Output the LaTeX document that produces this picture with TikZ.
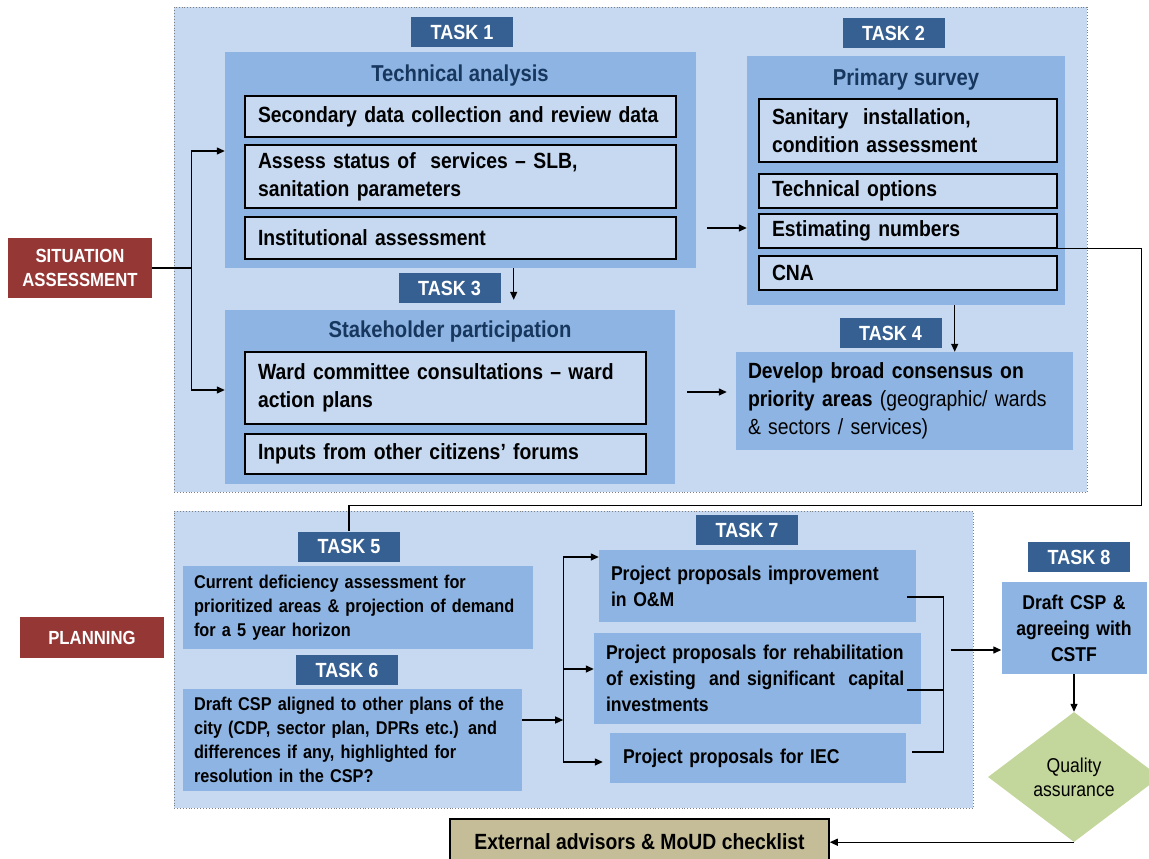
\documentclass[tikz,border=0pt]{standalone}
\usepackage{fontspec}
\setmainfont[FakeStretch=0.88]{Liberation Sans}
\usetikzlibrary{positioning,arrows.meta,shapes.geometric,calc}
\definecolor{ink}{HTML}{000000}
\definecolor{ink3}{HTML}{7F7F7F}
\definecolor{paleblue}{HTML}{C6D9F1}
\definecolor{midblue}{HTML}{8DB4E2}
\definecolor{tagblue}{HTML}{376092}
\definecolor{navy}{HTML}{17375E}
\definecolor{brick}{HTML}{953735}
\definecolor{khaki}{HTML}{C4BD97}
\definecolor{sage}{HTML}{C3D69B}
\tikzset{
  frame/.style={draw=ink3, dotted, line width=0.9pt, fill=paleblue, inner sep=0pt},
  panel/.style={fill=midblue, inner sep=0pt},
  subbox/.style={draw=ink, line width=1.5pt, fill=paleblue, align=left, inner xsep=13pt,
                 inner ysep=0pt, font=\fontsize{22}{28}\selectfont\bfseries},
  tag/.style={fill=tagblue, text=white, font=\fontsize{20.5}{24}\selectfont\bfseries,
              minimum width=102pt, minimum height=30pt, inner sep=0pt},
  ptitle/.style={text=navy, font=\fontsize{23}{28}\selectfont\bfseries, inner sep=0pt},
  note/.style={fill=midblue, align=left, inner xsep=13pt, inner ysep=0pt,
               font=\fontsize{18.5}{24}\selectfont\bfseries},
  phase/.style={fill=brick, text=white, align=center, font=\fontsize{19}{24}\selectfont\bfseries,
                minimum width=144pt, inner sep=0pt},
  check/.style={draw=ink, line width=1.5pt, fill=khaki, inner sep=0pt,
                font=\fontsize{22}{28}\selectfont\bfseries},
  gate/.style={diamond, aspect=1.3, fill=sage, inner sep=0pt, align=center,
               font=\fontsize{20}{24}\selectfont},
  arr/.style={-{Triangle[length=8pt,width=7pt]}, line width=1.3pt, draw=ink},
  link/.style={line width=1.3pt, draw=ink},
}

\begin{document}
\begin{tikzpicture}[x=1pt,y=-1pt]
\useasboundingbox (0,0) rectangle (1149,859);
% ---- frames and phases ----
\node[frame, minimum width=913pt, minimum height=485pt] (assessfr) at (630.5,249.5) {};
\node[frame, minimum width=799pt, minimum height=297pt] (planfr) at (573.5,659.5) {};
\node[phase, minimum height=60pt] (sitass) at (80,268) {SITUATION\\ASSESSMENT};
\node[phase, minimum height=41pt] (plan) at (92,637.5) {PLANNING};
% ---- task 1 ----
\node[panel, minimum width=471pt, minimum height=216pt] (tech) at (460.5,160) {};
\node[ptitle] (ttech) at (460,76) {Technical analysis};
\node[subbox, text width=405pt, minimum height=41pt] (secdata) at (460.5,116.5) {Secondary data collection and review data};
\node[subbox, text width=405pt, minimum height=63pt] (assess) at (460.5,176.5) {Assess status of~ services -- SLB,\\ sanitation parameters};
\node[subbox, text width=405pt, minimum height=42pt] (inst) at (460.5,238) {Institutional assessment};
\node[tag] (tsk1) at (462,32) {TASK 1};
% ---- task 2 ----
\node[panel, minimum width=318pt, minimum height=249pt] (survey) at (906,180.5) {};
\node[ptitle] (tsurvey) at (906,80) {Primary survey};
\node[subbox, text width=272pt, minimum height=63pt] (sanit) at (908,130.5) {Sanitary~ installation,\\ condition assessment};
\node[subbox, text width=272pt, minimum height=34pt] (techopt) at (908,191) {Technical options};
\node[subbox, text width=272pt, minimum height=34pt] (estim) at (908,231) {Estimating numbers};
\node[subbox, text width=272pt, minimum height=34pt] (cna) at (908,273) {CNA};
\node[tag] (tsk2) at (893.5,33.5) {TASK 2};
% ---- task 3 ----
\node[panel, minimum width=450pt, minimum height=174pt] (stake) at (450,397) {};
\node[ptitle] (tstake) at (450,332) {Stakeholder participation};
\node[subbox, text width=375pt, minimum height=72pt] (ward) at (445.5,388) {Ward committee consultations -- ward\\ action plans};
\node[subbox, text width=375pt, minimum height=40pt] (forums) at (445.5,454) {Inputs from other citizens’ forums};
\node[tag] (tsk3) at (449.5,288) {TASK 3};
% ---- task 4 ----
\node[note, text width=313pt, minimum height=98pt, inner xsep=12pt, font=\fontsize{22}{28}\selectfont] (consensus) at (904.5,401)
  {\textbf{Develop broad consensus on}\\ \textbf{priority areas} (geographic/ wards\\ \& sectors / services)};
\node[tag] (tsk4) at (890.5,333) {TASK 4};
% ---- tasks 5 and 6 ----
\node[note, text width=328pt, minimum height=83pt, inner xsep=11pt] (deficit) at (358,607.5)
  {Current deficiency assessment for\\ prioritized areas \& projection of demand\\ for a 5 year horizon};
\node[tag] (tsk5) at (349,546.5) {TASK 5};
\node[note, text width=317pt, minimum height=102pt, inner xsep=11pt] (aligned) at (352.5,740)
  {Draft CSP aligned to other plans of the\\ city (CDP, sector plan, DPRs etc.) and\\ differences if any, highlighted for\\ resolution in the CSP?};
\node[tag] (tsk6) at (347,670) {TASK 6};
% ---- task 7 ----
\node[note, text width=293pt, minimum height=72pt, inner xsep=12pt, font=\fontsize{20}{26}\selectfont\bfseries] (ppom) at (757.5,586)
  {Project proposals improvement\\ in O\&M};
\node[note, text width=303pt, minimum height=91pt, inner xsep=12pt, font=\fontsize{20}{26}\selectfont\bfseries] (pprehab) at (757.5,678.5)
  {Project proposals for rehabilitation\\ of existing~ and significant~ capital\\ investments};
\node[note, text width=270pt, minimum height=50pt, font=\fontsize{20}{26}\selectfont\bfseries] (ppiec) at (758,758)
  {Project proposals for IEC};
\node[tag] (tsk7) at (747,530) {TASK 7};
% ---- task 8 ----
\node[note, text width=125pt, minimum height=92pt, inner xsep=10pt, align=center, font=\fontsize{20}{26}\selectfont\bfseries] (draft) at (1074,628)
  {Draft CSP \&\\ agreeing with\\ CSTF};
\node[tag] (tsk8) at (1079,557) {TASK 8};
\node[gate, minimum width=172pt, minimum height=130pt] (qa) at (1074,777) {Quality\\ assurance};
\node[check, minimum width=379pt, minimum height=45pt] (ext) at (639.5,841.5) {External advisors \& MoUD checklist};
% ---- connectors ----
\coordinate (fork) at ($(sitass.east)+(39,0)$);
\draw[link] (sitass.east) -- (fork);
\draw[arr] (fork) |- ($(tech.west)+(0,-9)$);
\draw[arr] (fork) |- ($(stake.west)+(0,-7)$);
\draw[arr] ($(tech.east |- estim)+(11,-3)$) -- ($(survey.west |- estim)+(0,-3)$);
\draw[arr] ($(tsk3.east |- tech.south)+(13,0)$) -- ($(tsk3.east |- stake.north)+(13,-10)$);
\draw[arr] ($(tsk4.east |- survey.south)+(13,0)$) -- ($(tsk4.east |- consensus.north)+(13,0)$);
\draw[arr] ($(stake.east)+(12,-5)$) -- ($(consensus.west)+(-9,-9)$);
\draw[link] (estim.south east) -- ++(84,0) |- ($(tsk5.north)+(0,-26)$) -- (tsk5.north);
\coordinate (split) at ($(aligned.east)+(41,-20)$);
\draw[arr] ($(aligned.east)+(0,-20)$) -- (split);
\draw[arr] (split) |- ($(ppom.west)+(0,-29)$);
\draw[arr] (split) |- ($(pprehab.west)+(0,-9.5)$);
\draw[arr] (split) |- ($(ppiec.west)+(-7,4)$);
\coordinate (merge) at ($(ppom.east)+(27,64)$);
\draw[link] ($(ppom.east)+(-9,11)$) -| (merge);
\draw[link] ($(pprehab.east)+(-14,11.5)$) -- ++(36,0);
\draw[link] ($(ppiec.east)+(6,-6)$) -| (merge);
\draw[arr] ($(merge)+(8,0)$) -- (draft.west |- merge);
\draw[arr] (draft) -- (qa);
\draw[arr] (qa.south) -- (ext.east |- qa.south);
\end{tikzpicture}
\end{document}
